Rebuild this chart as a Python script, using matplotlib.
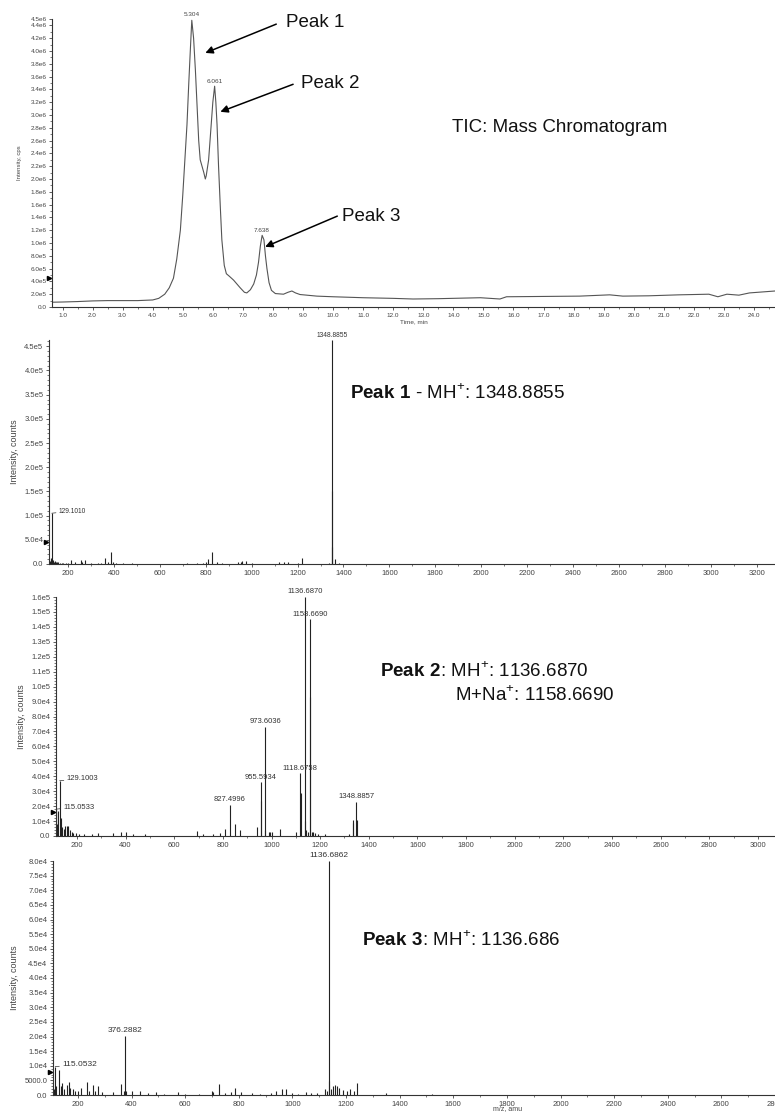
import numpy as np
import matplotlib
matplotlib.use("Agg")
import matplotlib.pyplot as plt
from matplotlib.ticker import FuncFormatter, MultipleLocator, AutoMinorLocator

plt.rcParams['font.family'] = ['Liberation Sans', 'DejaVu Sans']
plt.rcParams['mathtext.fontset'] = 'custom'
plt.rcParams['mathtext.rm'] = 'Liberation Sans'
plt.rcParams['mathtext.bf'] = 'Liberation Sans:bold'

# --- TIC chromatogram (time, min / intensity, cps)
tic_t = [0.67, 1.0, 1.5, 2.0, 2.5, 3.0, 3.5, 4.0, 4.2, 4.4, 4.55, 4.69, 4.8, 4.92, 5.0,
         5.07, 5.14, 5.2, 5.25, 5.3, 5.36, 5.42, 5.48, 5.53, 5.58, 5.64, 5.7, 5.75, 5.78,
         5.86, 5.93, 6.0, 6.06, 6.1, 6.14, 6.19, 6.25, 6.3, 6.38, 6.45, 6.55, 6.69, 6.8,
         6.91, 7.05, 7.13, 7.25, 7.36, 7.45, 7.52, 7.58, 7.64, 7.7, 7.75, 7.8, 7.87, 7.95,
         8.08, 8.35, 8.5, 8.63, 8.75, 8.9, 9.46, 10.0, 11.0, 12.0, 12.66, 13.5, 14.9, 15.55,
         15.77, 17.0, 18.2, 19.2, 19.64, 20.5, 21.5, 22.5, 22.8, 23.1, 23.5, 23.85, 24.7]
tic_i = [7.5e4, 7.8e4, 8.5e4, 9.5e4, 1.0e5, 1.0e5, 1.0e5, 1.1e5, 1.35e5, 2.0e5, 3.0e5, 4.5e5, 7.5e5, 1.2e6, 1.75e6,
         2.3e6, 2.85e6, 3.5e6, 4.0e6, 4.48e6, 4.2e6, 3.7e6, 3.1e6, 2.6e6, 2.3e6, 2.2e6, 2.1e6, 2.0e6, 2.05e6,
         2.3e6, 2.75e6, 3.2e6, 3.45e6, 3.2e6, 2.85e6, 2.2e6, 1.55e6, 1.05e6, 6.5e5, 5.2e5, 4.8e5, 4.2e5, 3.6e5,
         3.0e5, 2.3e5, 2.2e5, 2.7e5, 3.6e5, 5.0e5, 7.0e5, 9.5e5, 1.12e6, 1.05e6, 8.0e5, 6.0e5, 3.8e5, 2.6e5,
         2.1e5, 2.0e5, 2.3e5, 2.5e5, 2.2e5, 1.95e5, 1.7e5, 1.6e5, 1.45e5, 1.35e5, 1.25e5, 1.3e5, 1.45e5, 1.25e5,
         1.6e5, 1.65e5, 1.7e5, 1.9e5, 1.7e5, 1.75e5, 1.9e5, 2.0e5, 1.6e5, 2.0e5, 1.85e5, 2.2e5, 2.5e5]
tic_peak_t = [5.304, 6.061, 7.638]
tic_peak_i = [4.5e6, 3.45e6, 1.12e6]
tic_peak_txt = ["5.304", "6.061", "7.638"]

# --- Peak 1 spectrum
s1_mz = [112, 115.05, 120, 124, 129.101, 133, 138, 142, 147, 152, 158, 165, 172, 180,
         190, 200, 215, 232, 258, 262, 275, 300, 330, 345, 360, 372, 385.3, 395, 410,
         440, 480, 700, 720, 760, 790, 800, 809, 826.5, 848, 870, 940, 955, 960, 975,
         1000, 1050, 1120, 1140, 1160, 1200, 1218, 1335, 1348.8855, 1349.89, 1350.9, 1365, 1380]
s1_int = [8e3, 1.1e4, 6e3, 1.3e4, 1.05e5, 8e3, 5e3, 6e3, 4e3, 5e3, 4e3, 3e3, 3e3, 2e3,
          2e3, 2e3, 8e3, 5e3, 9e3, 4e3, 8e3, 2e3, 2e3, 3e3, 1.2e4, 5e3, 2.4e4, 5e3, 2e3,
          2e3, 2e3, 1e3, 1.5e3, 1.5e3, 3e3, 4e3, 1e4, 2.4e4, 5e3, 1.5e3, 4e3, 5e3, 6e3, 7e3,
          1.5e3, 1e3, 4e3, 5e3, 5e3, 2e3, 1.3e4, 3e3, 4.62e5, 1.5e5, 3.5e4, 1e4, 3e3]
s1_lab_mz = [1348.8855]
s1_lab_txt = ["1348.8855"]
s1_side_mz = [129.101]
s1_side_txt = ["129.1010"]

# --- Peak 2 spectrum
s2_mz = [112, 115.0533, 120, 124, 129.1003, 133, 140, 146, 152, 158, 165, 170, 178, 185,
         195, 210, 230, 260, 285, 350, 380, 400, 430, 480, 695, 720, 760, 790, 810,
         827.4996, 850, 870, 940, 955.5934, 956.6, 973.6036, 974.6, 990, 995, 1000, 1035,
         1100, 1118.6758, 1119.68, 1136.6870, 1137.69, 1140.7, 1150, 1158.6690, 1159.67,
         1165, 1170, 1180, 1190, 1220, 1320, 1334, 1336, 1348.8857, 1349.9]
s2_int = [1.6e4, 1.8e4, 8e3, 1.7e4, 3.7e4, 1.2e4, 6e3, 5e3, 6.5e3, 7e3, 7e3, 4e3, 3e3, 2e3,
          2e3, 1.5e3, 1.5e3, 1.5e3, 2e3, 2e3, 3e3, 2.5e3, 1.5e3, 1.5e3, 3.5e3, 1.5e3, 1.5e3, 2e3, 5e3,
          2.1e4, 8e3, 4e3, 6e3, 3.6e4, 2.35e4, 7.3e4, 4e3, 3e3, 3e3, 2.5e3, 5e3,
          2.5e3, 4.2e4, 2.9e4, 1.6e5, 1.0e4, 4e3, 3e3, 1.45e5, 9.3e4,
          3e3, 3e3, 2e3, 1.5e3, 1.5e3, 1.5e3, 1.1e4, 9e3, 2.3e4, 1.1e4]
s2_lab_mz = [827.4996, 955.5934, 973.6036, 1118.6758, 1136.6870, 1158.6690, 1348.8857]
s2_lab_txt = ["827.4996", "955.5934", "973.6036", "1118.6758", "1136.6870", "1158.6690", "1348.8857"]
s2_side_mz = [129.1003, 115.0533]
s2_side_txt = ["129.1003", "115.0533"]

# --- Peak 3 spectrum
s3_mz = [110, 115.0532, 120, 129, 135, 140, 148, 158, 165, 172, 180, 190, 200, 212,
         232, 240, 258, 262, 275, 290, 330, 360, 370, 376.2882, 380, 400, 430, 460,
         490, 520, 575, 600, 650, 700, 705, 725, 750, 770, 785, 810, 850, 880, 920,
         940, 960, 975, 1000, 1020, 1050, 1070, 1090, 1120, 1130, 1136.6862, 1137.69,
         1145, 1150, 1160, 1165, 1175, 1190, 1205, 1215, 1228, 1240, 1350, 1520]
s3_int = [2e3, 9.7e3, 3e3, 8.7e3, 3e3, 4e3, 2e3, 3.5e3, 4.5e3, 2.5e3, 2e3, 1.5e3, 1.5e3, 2.5e3,
          4.4e3, 1.5e3, 3.4e3, 1.5e3, 3e3, 1e3, 1e3, 3.8e3, 1.5e3, 2.03e4, 1.5e3, 1.5e3, 1.2e3, 700,
          1e3, 500, 1e3, 500, 500, 1.5e3, 1e3, 3.8e3, 700, 1e3, 2.3e3, 1e3, 800, 500, 800,
          1.2e3, 2e3, 2e3, 800, 500, 1e3, 800, 800, 2e3, 1.5e3, 8.0e4, 4.9e3,
          2e3, 3e3, 3.3e3, 3e3, 2.5e3, 1.8e3, 1.5e3, 2e3, 1.2e3, 4e3, 800, 500]
s3_lab_mz = [376.2882, 1136.6862]
s3_lab_txt = ["376.2882", "1136.6862"]
s3_side_mz = [115.0532]
s3_side_txt = ["115.0532"]

W, H = 775, 1115
fig = plt.figure(figsize=(W / 100, H / 100), dpi=100)


def box(left, top, bottom, right=775):
    return [left / W, 1 - bottom / H, (right - left) / W, (bottom - top) / H]


def sci(v, pos=None):
    if v == 0:
        return "0.0"
    if v < 1e4:
        return f"{v:.1f}"
    e = int(np.floor(np.log10(v) + 1e-9))
    return f"{v / 10**e:.1f}e{e}"


def style(ax, fs):
    for s in ['top', 'right']:
        ax.spines[s].set_visible(False)
    for s in ['left', 'bottom']:
        ax.spines[s].set_color('#333333')
        ax.spines[s].set_linewidth(0.8)
    ax.tick_params(which='major', length=2.5, width=0.6, color='#444444',
                   labelsize=fs, labelcolor='#444444', pad=1.5)
    ax.tick_params(which='minor', length=1.3, width=0.5, color='#444444')
    ax.yaxis.set_major_formatter(FuncFormatter(sci))


# ---------- TIC ----------
ax0 = fig.add_axes(box(52, 19, 307))
ax0.plot(tic_t, tic_i, color='#555555', lw=0.8)
ax0.set_xlim(0.65, 24.7)
ax0.set_ylim(0, 4.5e6)
ax0.set_yticks(list(np.arange(0, 4.41e6, 2e5)) + [4.5e6])
ax0.xaxis.set_major_locator(MultipleLocator(1))
ax0.xaxis.set_minor_locator(MultipleLocator(0.5))
ax0.yaxis.set_minor_locator(MultipleLocator(1e5))
ax0.xaxis.set_major_formatter(FuncFormatter(lambda v, p: f"{v:.1f}"))
style(ax0, 4.6)
ax0.set_ylabel("Intensity, cps", fontsize=4.3, color='#444444', labelpad=6)
ax0.set_xlabel("Time, min", fontsize=4.6, color='#444444', labelpad=1)
for t, i, s in zip(tic_peak_t, tic_peak_i, tic_peak_txt):
    ax0.annotate(s, (t, i), xytext=(0, 1.5), textcoords='offset points', ha='center',
                 va='bottom', fontsize=4.6, color='#444444', annotation_clip=False)
ax0.plot([0.56], [4.5e5], marker='>', color='k', ms=3, clip_on=False)

arrows = [((5.75, 3.97e6), (8.11, 4.42e6), "Peak 1", (8.44, 4.44e6)),
          ((6.25, 3.05e6), (8.67, 3.48e6), "Peak 2", (8.94, 3.50e6)),
          ((7.74, 9.4e5), (10.14, 1.42e6), "Peak 3", (10.3, 1.42e6))]
for tip, tail, lab, pos in arrows:
    ax0.annotate("", xy=tip, xytext=tail,
                 arrowprops=dict(arrowstyle='-|>', mutation_scale=11, lw=1.1, color='k',
                                 shrinkA=0, shrinkB=0))
    ax0.text(pos[0], pos[1], lab, fontsize=13.5, ha='left', va='center', color='#111111')
ax0.text(13.96, 2.8e6, "TIC: Mass Chromatogram", fontsize=13.5, ha='left', va='center',
         color='#111111')


def spectrum(rect, mz, inten, xlim, ymax, ystep, yminor, lab_mz, lab_txt, side_mz, side_txt,
             lab_fs, marker_y):
    ax = fig.add_axes(rect)
    ax.vlines(mz, 0, inten, color='#222222', lw=0.8)
    ax.set_xlim(*xlim)
    ax.set_ylim(0, ymax)
    ax.set_yticks(np.arange(0, ymax + ystep / 2, ystep))
    ax.yaxis.set_minor_locator(MultipleLocator(yminor))
    ax.xaxis.set_major_locator(MultipleLocator(200))
    ax.xaxis.set_minor_locator(MultipleLocator(100))
    ax.xaxis.set_major_formatter(FuncFormatter(lambda v, p: f"{v:.0f}"))
    style(ax, 5.5)
    ax.set_ylabel("Intensity, counts", fontsize=6.5, color='#444444', labelpad=4)
    mz_arr = np.array(mz)
    for m, s in zip(lab_mz, lab_txt):
        h = inten[int(np.argmin(np.abs(mz_arr - m)))]
        ax.annotate(s, (m, h), xytext=(0, 1.2), textcoords='offset points', ha='center',
                    va='bottom', fontsize=lab_fs, color='#333333', annotation_clip=False)
    for m, s in zip(side_mz, side_txt):
        h = inten[int(np.argmin(np.abs(mz_arr - m)))]
        ax.annotate(s, (m, h), xytext=(5, 1.5), textcoords='offset points', ha='left',
                    va='center', fontsize=lab_fs, color='#333333',
                    arrowprops=dict(arrowstyle='-', lw=0.5, color='#333333',
                                    shrinkA=0, shrinkB=0))
    ax.plot([xlim[0] - (xlim[1] - xlim[0]) * 0.004], [marker_y], marker='>', color='k', ms=3,
            clip_on=False)
    return ax


ax1 = spectrum(box(49, 340, 564), s1_mz, s1_int, (117, 3280), 4.63e5, 5e4, 1e4,
               s1_lab_mz, s1_lab_txt, s1_side_mz, s1_side_txt, 4.8, 4.5e4)
ax1.text(1428, 3.53e5, r"$\mathbf{Peak\ 1}$ - MH$^{+}$: 1348.8855", fontsize=13.5,
         ha='left', va='center', color='#111111')

ax2 = spectrum(box(56, 597, 836), s2_mz, s2_int, (114, 3070), 1.6e5, 1e4, 2e3,
               s2_lab_mz, s2_lab_txt, s2_side_mz, s2_side_txt, 5.5, 1.6e4)
ax2.text(1447, 1.10e5, r"$\mathbf{Peak\ 2}$: MH$^{+}$: 1136.6870", fontsize=13.5,
         ha='left', va='center', color='#111111')
ax2.text(1756, 0.94e5, r"M+Na$^{+}$: 1158.6690", fontsize=13.5,
         ha='left', va='center', color='#111111')

ax3 = spectrum(box(53, 861, 1095), s3_mz, s3_int, (107, 2800), 8.0e4, 5e3, 1e3,
               s3_lab_mz, s3_lab_txt, s3_side_mz, s3_side_txt, 6, 7.9e3)
ax3.text(1261, 5.3e4, r"$\mathbf{Peak\ 3}$: MH$^{+}$: 1136.686", fontsize=13.5,
         ha='left', va='center', color='#111111')
fig.text(508 / W, 1 - 1109 / H, "m/z, amu", fontsize=5, color='#444444', ha='center',
         va='center')

fig.savefig("out.png", dpi=100)
